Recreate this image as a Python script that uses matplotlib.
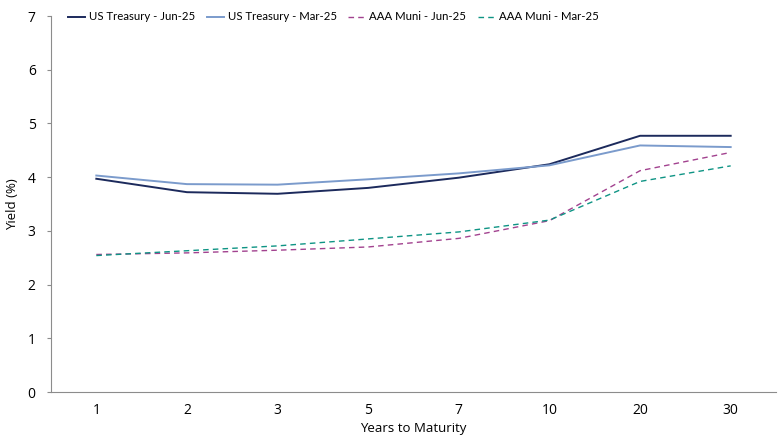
import matplotlib.pyplot as plt

maturities = ["1", "2", "3", "5", "7", "10", "20", "30"]

ust_jun25 = [3.97, 3.72, 3.69, 3.80, 3.99, 4.24, 4.77, 4.77]
ust_mar25 = [4.03, 3.87, 3.86, 3.96, 4.07, 4.22, 4.59, 4.56]
muni_jun25 = [2.56, 2.59, 2.64, 2.70, 2.86, 3.19, 4.12, 4.46]
muni_mar25 = [2.54, 2.63, 2.72, 2.85, 2.98, 3.20, 3.92, 4.21]

plt.rcParams["font.family"] = ["Open Sans", "DejaVu Sans"]

fig = plt.figure(figsize=(7.8, 4.4), dpi=100)
ax = fig.add_axes([51 / 780, 48 / 440, 725 / 780, 376 / 440])

x = range(len(maturities))
ax.plot(x, ust_jun25, color="#1c2a5c", lw=1.4, label="US Treasury - Jun-25")
ax.plot(x, ust_mar25, color="#7b9bcc", lw=1.4, label="US Treasury - Mar-25")
ax.plot(x, muni_jun25, color="#a2428f", lw=1.0, ls=(0, (4, 3)), label="AAA Muni - Jun-25")
ax.plot(x, muni_mar25, color="#0e9484", lw=1.0, ls=(0, (4, 3)), label="AAA Muni - Mar-25")

ax.set_xlim(-0.5, len(maturities) - 0.5)
ax.set_ylim(0, 7)
ax.set_xticks(list(x))
ax.set_xticklabels(maturities)
ax.set_yticks(range(8))

for s in ["top", "right"]:
    ax.spines[s].set_visible(False)
ax.spines["left"].set_color("#8c8c8c")
ax.spines["bottom"].set_color("#8c8c8c")
ax.tick_params(axis="x", length=0, pad=8, labelsize=10)
ax.tick_params(axis="y", length=3, color="#8c8c8c", pad=8, labelsize=10)

ax.set_xlabel("Years to Maturity", fontsize=9.5, labelpad=3)
ax.set_ylabel("Yield (%)", fontsize=9.5, labelpad=6)

leg = fig.legend(loc="center left", bbox_to_anchor=(58 / 780, 1 - 17 / 440), ncol=4,
                 frameon=False, handlelength=1.5, handletextpad=0.35,
                 columnspacing=1.0, prop={"family": "Lato", "size": 8.2})

fig.savefig("out.png", dpi=100)
